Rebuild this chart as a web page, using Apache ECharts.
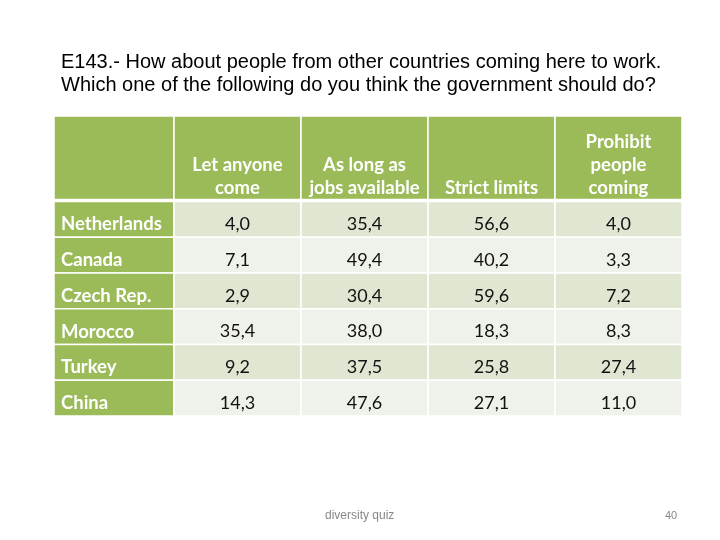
<!DOCTYPE html>
<html>
<head>
<meta charset="utf-8">
<script src="https://cdn.jsdelivr.net/npm/echarts@6/dist/echarts.min.js"></script>
<style>
html,body{margin:0;padding:0;background:#fff;}
#main{width:720px;height:540px;}
</style>
</head>
<body>
<div id="main"></div>
<script>
// ---- data ----
const titleText = 'E143.- How about people from other countries coming here to work.\nWhich one of the following do you think the government should do?';
const footerText = 'diversity quiz';
const pageNumber = '40';
const columns = ['Let anyone\ncome', 'As long as\njobs available', 'Strict limits', 'Prohibit\npeople\ncoming'];
const countries = ['Netherlands', 'Canada', 'Czech Rep.', 'Morocco', 'Turkey', 'China'];
const letAnyoneCome = [4.0, 7.1, 2.9, 35.4, 9.2, 14.3];
const asLongAsJobs = [35.4, 49.4, 30.4, 38.0, 37.5, 47.6];
const strictLimits = [56.6, 40.2, 59.6, 18.3, 25.8, 27.1];
const prohibitComing = [4.0, 3.3, 7.2, 8.3, 27.4, 11.0];

// ---- build ----
const seriesValues = [letAnyoneCome, asLongAsJobs, strictLimits, prohibitComing];
const bodyData = [];
seriesValues.forEach((arr, c) => arr.forEach((v, r) => bodyData.push([c, r, v])));
const headerData = columns.map((_, c) => [c, 0]);
const labelData = countries.map((_, r) => [0, r]);

const GREEN = '#9BBB59';
const BAND1 = '#DFE7D2';
const BAND2 = '#EFF2EA';
const FONT = 'Lato, "Open Sans", sans-serif';

function cellRect(api) {
  const c = api.coord([api.value(0), api.value(1)]);
  const s = api.size([1, 1]);
  return { c, s, x: c[0] - s[0] / 2, y: c[1] - s[1] / 2, w: s[0], h: s[1] };
}
function rectEl(r, fill) {
  return { type: 'rect', shape: { x: r.x, y: r.y, width: r.w, height: r.h },
    style: { fill: fill, stroke: '#fff', lineWidth: 1.5 } };
}
const fmt = v => v.toFixed(1).replace('.', ',');

const chart = echarts.init(document.getElementById('main'), null, { renderer: 'canvas' });
const hiddenCat = (data, inverse) => ({ type: 'category', data: data, show: false, inverse: !!inverse });

chart.setOption({
  backgroundColor: '#fff',
  animation: false,
  title: [
    { text: titleText, left: 61, top: 50.5, padding: 0,
      textStyle: { fontFamily: '"Liberation Sans", Arial, sans-serif', fontSize: 20, fontWeight: 'normal', color: '#000', lineHeight: 23 } },
    { text: footerText, left: 325, top: 509, padding: 0,
      textStyle: { fontFamily: '"Liberation Sans", Arial, sans-serif', fontSize: 12, fontWeight: 'normal', color: '#888', lineHeight: 14 } },
    { text: pageNumber, left: 665, top: 509, padding: 0,
      textStyle: { fontFamily: '"Liberation Sans", Arial, sans-serif', fontSize: 11, fontWeight: 'normal', color: '#888', lineHeight: 14 } }
  ],
  grid: [
    { left: 54, top: 116, width: 120, height: 83.5 },
    { left: 174, top: 116, width: 508, height: 83.5 },
    { left: 54, top: 201.5, width: 120, height: 214.5 },
    { left: 174, top: 201.5, width: 508, height: 214.5 }
  ],
  xAxis: [
    Object.assign(hiddenCat(['']), { gridIndex: 0 }),
    Object.assign(hiddenCat(columns), { gridIndex: 1 }),
    Object.assign(hiddenCat(['']), { gridIndex: 2 }),
    Object.assign(hiddenCat(columns), { gridIndex: 3 })
  ],
  yAxis: [
    Object.assign(hiddenCat(['']), { gridIndex: 0 }),
    Object.assign(hiddenCat(['']), { gridIndex: 1 }),
    Object.assign(hiddenCat(countries, true), { gridIndex: 2 }),
    Object.assign(hiddenCat(countries, true), { gridIndex: 3 })
  ],
  series: [
    { type: 'custom', xAxisIndex: 0, yAxisIndex: 0, data: [[0, 0]], silent: true,
      renderItem: (p, api) => rectEl(cellRect(api), GREEN) },
    { type: 'custom', xAxisIndex: 1, yAxisIndex: 1, data: headerData, silent: true,
      renderItem: (p, api) => {
        const r = cellRect(api);
        const txt = columns[api.value(0)];
        const n = txt.split('\n').length;
        return { type: 'group', children: [
          rectEl(r, GREEN),
          { type: 'text', style: { text: txt, x: r.c[0], y: 188 - (n - 1) * 11.4,
            align: 'center', verticalAlign: 'middle', fill: '#fff', lineHeight: 22.8,
            font: 'bold 18.5px ' + FONT } }
        ] };
      } },
    { type: 'custom', xAxisIndex: 2, yAxisIndex: 2, data: labelData, silent: true,
      renderItem: (p, api) => {
        const r = cellRect(api);
        return { type: 'group', children: [
          rectEl(r, GREEN),
          { type: 'text', style: { text: countries[api.value(1)], x: r.x + 7, y: r.c[1] + 5,
            align: 'left', verticalAlign: 'middle', fill: '#fff', font: 'bold 18.5px ' + FONT } }
        ] };
      } },
    { type: 'custom', xAxisIndex: 3, yAxisIndex: 3, data: bodyData, silent: true,
      renderItem: (p, api) => {
        const r = cellRect(api);
        const row = api.value(1);
        return { type: 'group', children: [
          rectEl(r, row % 2 === 0 ? BAND1 : BAND2),
          { type: 'text', style: { text: fmt(api.value(2)), x: r.c[0], y: r.c[1] + 5,
            align: 'center', verticalAlign: 'middle', fill: '#111', font: '18px ' + FONT } }
        ] };
      } }
  ]
});
</script>
</body>
</html>
